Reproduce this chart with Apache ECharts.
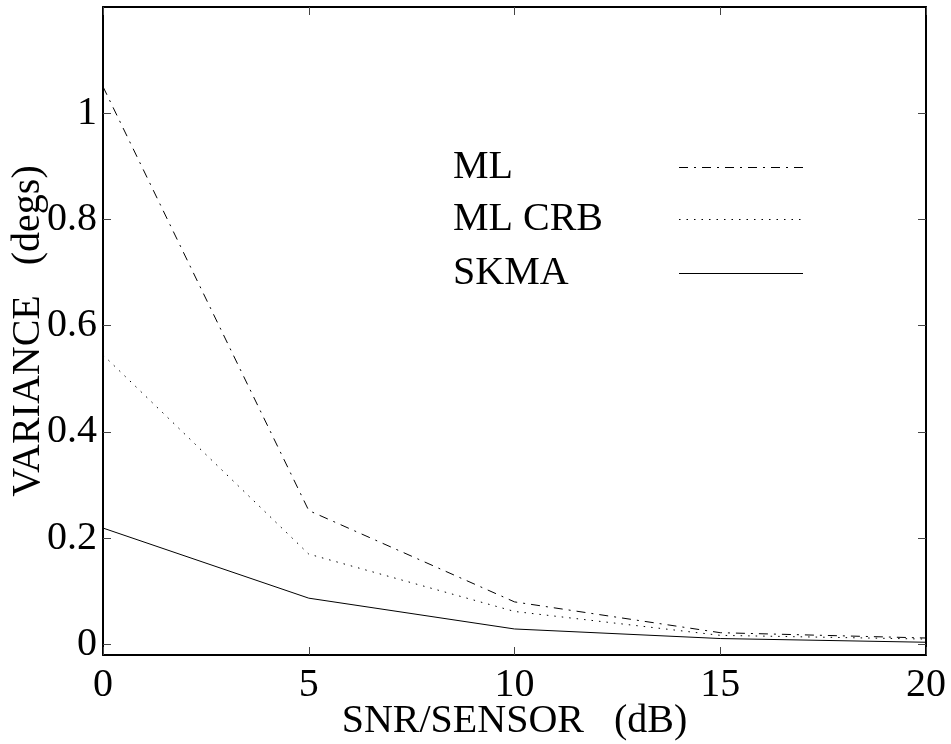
<!DOCTYPE html>
<html>
<head>
<meta charset="utf-8">
<script src="https://cdn.jsdelivr.net/npm/echarts@6/dist/echarts.min.js"></script>
<style>
  html, body { margin: 0; padding: 0; background: #fff; }
  #container { width: 951px; height: 744px; }
</style>
</head>
<body>
<div id="container"></div>
<script>
var snr = [0, 5, 10, 15, 20];
var mlVar = [1.05, 0.252, 0.080, 0.022, 0.012];
var mlCrbVar = [0.545, 0.170, 0.062, 0.017, 0.010];
var skmaVar = [0.219, 0.087, 0.029, 0.011, 0.004];
var yTicks = [0, 0.2, 0.4, 0.6, 0.8, 1];
var seriesNames = ["ML", "ML CRB", "SKMA"];

var FONT = "Liberation Serif";
var dashDot = [9, 6, 2, 6];
var dotted = [1.5, 6];

function pairs(xs, ys) {
    var out = [];
    for (var i = 0; i < xs.length; i++) {
        out.push([xs[i], ys[i]]);
    }
    return out;
}

function ticks(custom) {
    var t = { show: true, inside: true, length: 8, lineStyle: { color: "#444", width: 1 } };
    if (custom) {
        t.customValues = custom;
    }
    return t;
}

var dom = document.getElementById("container");
var myChart = echarts.init(dom, null, { renderer: "canvas" });

var frameLine = { show: true, onZero: false, lineStyle: { color: "#000", width: 2 } };

// legend drawn by hand: label on the left, line sample on the right
var legendRows = [
    { name: seriesNames[0], y: 167.5, dash: dashDot },
    { name: seriesNames[1], y: 219.5, dash: dotted },
    { name: seriesNames[2], y: 273.5, dash: null }
];
var legendGraphic = [];
legendRows.forEach(function (r) {
    legendGraphic.push({
        type: "text", left: 453, top: r.y - 20,
        style: { text: r.name, font: "40px '" + FONT + "'", fill: "#000" }
    });
    legendGraphic.push({
        type: "line",
        shape: { x1: 679, y1: r.y, x2: 803, y2: r.y },
        style: { stroke: "#000", lineWidth: 1, lineDash: r.dash }
    });
});

var option = {
    animation: false,
    backgroundColor: "#fff",
    grid: { left: 103, right: 25, top: 7, bottom: 89, containLabel: false, outerBoundsMode: "none" },
    xAxis: [
        {
            type: "value", min: 0, max: 20, interval: 5,
            name: "SNR/SENSOR   (dB)", nameLocation: "middle", nameGap: 46, nameMoveOverlap: false,
            nameTextStyle: { fontFamily: FONT, fontSize: 40, color: "#000" },
            axisLine: frameLine, axisTick: ticks(),
            axisLabel: { fontFamily: FONT, fontSize: 40, color: "#000", margin: 10 },
            splitLine: { show: false }
        },
        {
            type: "value", min: 0, max: 20, interval: 5, position: "top",
            axisLine: frameLine, axisTick: ticks(),
            axisLabel: { show: false }, splitLine: { show: false }
        }
    ],
    yAxis: [
        {
            type: "value", min: -0.02, max: 1.2,
            name: "VARIANCE   (degs)", nameLocation: "middle", nameGap: 55, nameMoveOverlap: false,
            nameTextStyle: { fontFamily: FONT, fontSize: 40, color: "#000" },
            axisLine: frameLine, axisTick: ticks(yTicks),
            axisLabel: { fontFamily: FONT, fontSize: 40, color: "#000", margin: 6, customValues: yTicks },
            splitLine: { show: false }
        },
        {
            type: "value", min: -0.02, max: 1.2, position: "right",
            axisLine: frameLine, axisTick: ticks(yTicks),
            axisLabel: { show: false }, splitLine: { show: false }
        }
    ],
    graphic: legendGraphic,
    series: [
        {
            name: seriesNames[0], type: "line", data: pairs(snr, mlVar),
            symbol: "none", lineStyle: { color: "#000", width: 1, type: dashDot }
        },
        {
            name: seriesNames[1], type: "line", data: pairs(snr, mlCrbVar),
            symbol: "none", lineStyle: { color: "#000", width: 1, type: dotted }
        },
        {
            name: seriesNames[2], type: "line", data: pairs(snr, skmaVar),
            symbol: "none", lineStyle: { color: "#000", width: 1, type: "solid" }
        }
    ]
};

myChart.setOption(option);
</script>
</body>
</html>
